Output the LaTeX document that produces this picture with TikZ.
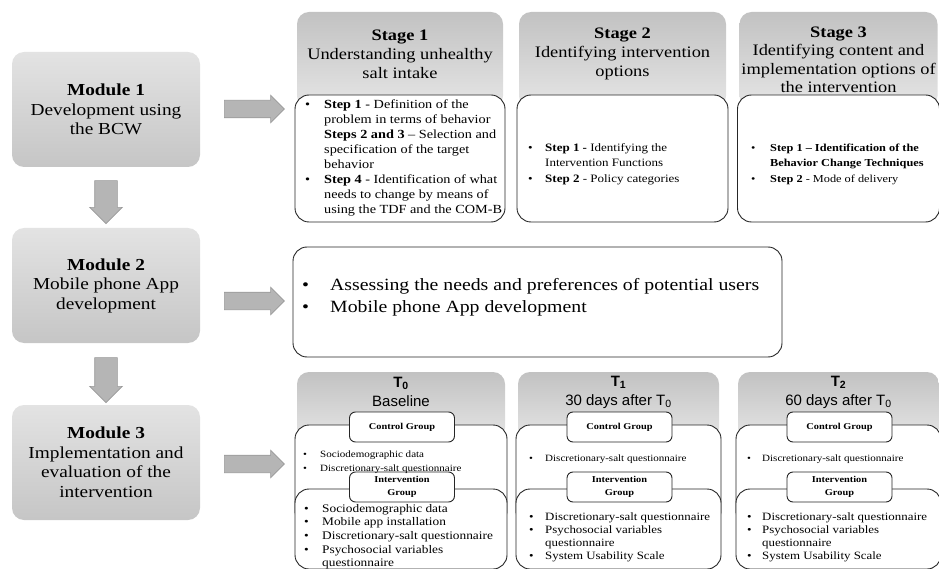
\documentclass[tikz,border=0pt]{standalone}
\usepackage{fontspec}
\setmainfont{Liberation Serif}[FakeStretch=1.15]
\setsansfont{Liberation Sans}
\usetikzlibrary{shapes.arrows,positioning}

\tikzset{
  modbox/.style={rounded corners=12pt,top color=gray!22,bottom color=gray!45,minimum width=188pt,minimum height=115pt,align=center,inner sep=0pt,font=\fontsize{16.8}{19.5}\selectfont},
  hdrbox/.style={rounded corners=12pt,top color=gray!48,bottom color=gray!20,inner sep=0pt},
  bodybox/.style={draw=black!85,fill=white,line width=0.9pt,rounded corners=14pt,inner sep=0pt},
  grplabel/.style={draw=black!85,fill=white,line width=0.9pt,rounded corners=6pt,minimum width=105pt,minimum height=30pt,align=center,inner sep=0pt,font=\bfseries\fontsize{9}{13}\selectfont},
  bigarrow/.style={single arrow,fill=gray!58,draw=gray!80,line width=0.6pt,inner sep=0pt,single arrow head extend=5pt},
  listtxt/.style={anchor=north west,align=left,inner sep=0pt},
}

\begin{document}
\begin{tikzpicture}[x=1pt,y=-1pt]
\useasboundingbox (0,0) rectangle (939,569);

% modules
\node[modbox] (m1) at (106,109.5) {\textbf{Module 1}\\Development using\\the BCW};
\node[modbox] (m2) at (106,285.5) {\textbf{Module 2}\\Mobile phone App\\development};
\node[modbox] (m3) at (106,462.5) {\textbf{Module 3}\\Implementation and\\evaluation of the\\intervention};

\node[bigarrow,rotate=-90,minimum height=43pt,text height=11pt,text depth=11pt] (d1) at (106,196.5) {};
\node[bigarrow,rotate=-90,minimum height=45pt,text height=11pt,text depth=11pt] (d2) at (106,374.5) {};
\node[bigarrow,minimum height=60pt,text height=8.5pt,text depth=8.5pt] (r1) at (250,109) {};
\node[bigarrow,minimum height=60pt,text height=8.5pt,text depth=8.5pt] (r2) at (250,301) {};
\node[bigarrow,minimum height=60pt,text height=8.5pt,text depth=8.5pt] (r3) at (250,464) {};

% stages
\foreach \n/\cx/\w in {1/400/206,2/622.5/207,3/838.5/198} {
  \node[hdrbox,minimum width=\w pt,minimum height=96pt] (s\n h) at (\cx,60) {};
  \node[bodybox,minimum width=\w pt+4pt,minimum height=127pt] (s\n b) at (\cx,158.5) {};
}
\node[align=center,font=\fontsize{16}{19}\selectfont] (s1t) at (400,54) {\textbf{Stage 1}\\Understanding unhealthy\\salt intake};
\node[align=center,font=\fontsize{16}{19}\selectfont] (s2t) at (622.5,54) {\textbf{Stage 2}\\Identifying intervention\\options};
\node[align=center,font=\fontsize{16}{18.5}\selectfont] (s3t) at (838.5,60) {\textbf{Stage 3}\\Identifying content and\\implementation options of\\the intervention};

\node[listtxt,font=\fontsize{12.4}{15.1}\selectfont] (s1l) at (305,97.5) {\begin{tabular}{@{}p{19pt}@{}l@{}}
\textbullet & \textbf{Step 1} - Definition of the\\
 & problem in terms of behavior\\
 & \textbf{Steps 2 and 3} – Selection and\\
 & specification of the target\\
 & behavior\\
\textbullet & \textbf{Step 4} - Identification of what\\
 & needs to change by means of\\
 & using the TDF and the COM-B
\end{tabular}};
\node[listtxt,font=\fontsize{11.3}{15.3}\selectfont] (s2l) at (528,140.5) {\begin{tabular}{@{}p{17pt}@{}l@{}}
\textbullet & \textbf{Step 1 -} Identifying the\\
 & Intervention Functions\\
\textbullet & \textbf{Step 2} - Policy categories
\end{tabular}};
\node[listtxt,font=\fontsize{10.7}{15.3}\selectfont] (s3l) at (751,140.5) {\begin{tabular}{@{}p{19pt}@{}l@{}}
\textbullet & \textbf{Step 1 – Identification of the}\\
 & \textbf{Behavior Change Techniques}\\
\textbullet & \textbf{Step 2} - Mode of delivery
\end{tabular}};

% module 2 content
\node[bodybox,minimum width=489pt,minimum height=110pt] (m2b) at (537.5,302) {};
\node[listtxt,font=\fontsize{17.2}{22}\selectfont] (m2l) at (302,275) {\begin{tabular}{@{}p{28pt}@{}l@{}}
\textbullet & Assessing the needs and preferences of potential users\\
\textbullet & Mobile phone App development
\end{tabular}};

% time points
\foreach \n/\cx/\w in {0/401/208,1/618.5/201,2/838.5/201} {
  \node[hdrbox,minimum width=\w pt,minimum height=68pt] (t\n h) at (\cx,406) {};
  \node[bodybox,minimum width=\w pt+4pt,minimum height=100pt] (t\n c) at (\cx,475) {};
  \node[bodybox,minimum width=\w pt+4pt,minimum height=80pt] (t\n i) at (\cx,529) {};
  \node[grplabel] (t\n cg) at (\cx+1,427) {Control Group};
  \node[grplabel] (t\n ig) at (\cx+1,487) {Intervention\\Group};
}
\node[align=center,font=\sffamily\fontsize{15}{19}\selectfont] (t0t) at (401,392) {\textbf{T\textsubscript{0}}\\Baseline};
\node[align=center,font=\sffamily\fontsize{15}{19}\selectfont] (t1t) at (618.5,392) {\textbf{T\textsubscript{1}}\\30 days after T\textsubscript{0}};
\node[align=center,font=\sffamily\fontsize{15}{19}\selectfont] (t2t) at (838.5,392) {\textbf{T\textsubscript{2}}\\60 days after T\textsubscript{0}};

\node[listtxt,font=\fontsize{9.6}{14}\selectfont] (t0cl) at (303,447.5) {\begin{tabular}{@{}p{17pt}@{}l@{}}
\textbullet & Sociodemographic data\\
\textbullet & Discretionary-salt questionnaire
\end{tabular}};
\node[listtxt,font=\fontsize{11.6}{13.6}\selectfont] (t0il) at (304,502.5) {\begin{tabular}{@{}p{18pt}@{}l@{}}
\textbullet & Sociodemographic data\\
\textbullet & Mobile app installation\\
\textbullet & Discretionary-salt questionnaire\\
\textbullet & Psychosocial variables\\
 & questionnaire
\end{tabular}};

\node[listtxt,font=\fontsize{9.6}{14}\selectfont] (t1cl) at (529,451.5) {\begin{tabular}{@{}p{16pt}@{}l@{}}
\textbullet & Discretionary-salt questionnaire
\end{tabular}};
\node[listtxt,font=\fontsize{11.2}{13}\selectfont] (t1il) at (529,511) {\begin{tabular}{@{}p{16pt}@{}l@{}}
\textbullet & Discretionary-salt questionnaire\\
\textbullet & Psychosocial variables\\
 & questionnaire\\
\textbullet & System Usability Scale
\end{tabular}};

\node[listtxt,font=\fontsize{9.6}{14}\selectfont] (t2cl) at (747,451.5) {\begin{tabular}{@{}p{15pt}@{}l@{}}
\textbullet & Discretionary-salt questionnaire
\end{tabular}};
\node[listtxt,font=\fontsize{11.2}{13}\selectfont] (t2il) at (747,511) {\begin{tabular}{@{}p{15pt}@{}l@{}}
\textbullet & Discretionary-salt questionnaire\\
\textbullet & Psychosocial variables\\
 & questionnaire\\
\textbullet & System Usability Scale
\end{tabular}};
\end{tikzpicture}
\end{document}
